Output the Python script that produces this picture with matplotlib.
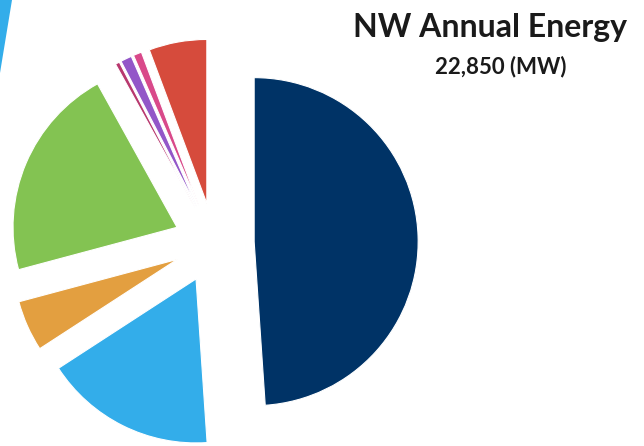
import matplotlib
matplotlib.use('Agg')
import matplotlib.pyplot as plt
from matplotlib.patches import Polygon

# Share of NW annual energy (percent), counter-clockwise from 12 o'clock
shares = [5.7, 0.83, 1.1, 0.42, 21.1, 5.0, 16.9, 48.9]
colors = ['#D64B3C', '#D9498A', '#9356C8', '#B8386E',
          '#83C352', '#E39F40', '#33ADEA', '#003366']
title = 'NW Annual Energy'
subtitle = '22,850 (MW)'

W, H = 644, 446
fig = plt.figure(figsize=(W / 100, H / 100), dpi=100)
ax = fig.add_axes([0, 0, 1, 1])

R = 164
ax.pie(shares, colors=colors, startangle=90, counterclock=True,
       radius=R, center=(214, H - 243), explode=[0.245 * R] * len(shares),
       wedgeprops=dict(edgecolor='white', linewidth=0.8))
ax.set_xlim(0, W)
ax.set_ylim(0, H)
ax.set_aspect('equal')
ax.axis('off')

# stray blue edge of a neighbouring graphic in the top-left corner
fig.patches.append(Polygon([(0, 1), (12 / W, 1), (0, 1 - 73 / H)], closed=True,
                           transform=fig.transFigure, facecolor='#33ADEA',
                           edgecolor='none'))

fig.text(490 / W, 1 - 27 / H, title, ha='center', va='center',
         fontsize=23, fontweight='bold', family='Lato', color='#1a1a1a')
fig.text(501 / W, 1 - 67 / H, subtitle, ha='center', va='center',
         fontsize=16, fontweight='bold', family='Lato', color='#1a1a1a')

fig.savefig('out.png', dpi=100)
